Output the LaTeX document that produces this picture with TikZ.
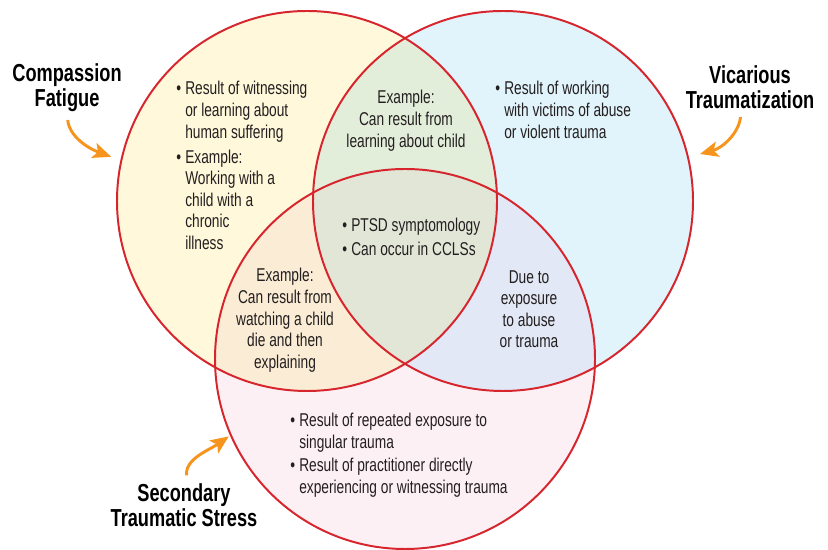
\documentclass[tikz,border=0pt]{standalone}
\usepackage{fontspec}
\setmainfont{Liberation Sans}[FakeStretch=0.74]
\usetikzlibrary{arrows.meta,positioning}

\definecolor{ringred}{HTML}{D7252E}
\definecolor{cfyellow}{HTML}{FFF8DA}
\definecolor{vtblue}{HTML}{E1F3FB}
\definecolor{stspink}{HTML}{FDF0F4}
\definecolor{cfvtgreen}{HTML}{E3EEDA}
\definecolor{cfstspeach}{HTML}{FBECD5}
\definecolor{vtstslilac}{HTML}{E2E8F5}
\definecolor{coregrey}{HTML}{E1E6D7}
\definecolor{pointerorange}{HTML}{F7941D}
\definecolor{bodyink}{HTML}{231F20}

\newcommand{\listdot}{\makebox[6.4pt][l]{\textbullet}}
\newcommand{\listgap}{\hspace*{6.4pt}}

\begin{document}
\begin{tikzpicture}[
    ring/.style={draw=ringred, line width=1.4pt},
    body/.style={inner sep=0pt, text=bodyink, font=\fontsize{13.2}{15.4}\selectfont},
    title/.style={inner sep=0pt, align=center, font=\fontsize{17.5}{17.8}\selectfont\bfseries},
    pointer/.style={-{Stealth[length=13pt,width=11pt,inset=3pt]}, draw=pointerorange, line width=2.1pt}
]
    \useasboundingbox (0,0) rectangle (20.7,13.75);

    \coordinate (cf) at (7.675,8.725);
    \coordinate (vt) at (12.575,8.725);
    \coordinate (sts) at (10.125,4.775);

    % circle fills
    \fill[cfyellow] (cf) circle (4.75);
    \fill[vtblue] (vt) circle (4.75);
    \fill[stspink] (sts) circle (4.75);
    % overlaps
    \begin{scope}
        \clip (cf) circle (4.75);
        \fill[cfvtgreen] (vt) circle (4.75);
        \fill[cfstspeach] (sts) circle (4.75);
    \end{scope}
    \begin{scope}
        \clip (vt) circle (4.75);
        \fill[vtstslilac] (sts) circle (4.75);
    \end{scope}
    \begin{scope}
        \clip (cf) circle (4.75);
        \clip (vt) circle (4.75);
        \fill[coregrey] (sts) circle (4.75);
    \end{scope}
    \draw[ring] (cf) circle (4.75);
    \draw[ring] (vt) circle (4.75);
    \draw[ring] (sts) circle (4.75);

    % titles
    \node[title, anchor=north] (cflab) at (1.675,12.175) {Compassion\\Fatigue};
    \node[title, anchor=north] (vtlab) at (18.75,12.125) {Vicarious\\Traumatization};
    \node[title, anchor=north] (stslab) at (4.6,1.675) {Secondary\\Traumatic Stress};

    \coordinate (cftip) at (2.78,9.83);
    \coordinate (vttip) at (17.5,9.9);
    \coordinate (ststip) at (5.72,2.84);

    \draw[pointer, shorten <=6pt] (cflab.south) to[out=-85, in=160] (cftip);
    \draw[pointer, shorten <=6pt] ([xshift=-0.22cm]vtlab.south) to[out=-95, in=15] (vttip);
    \draw[pointer, shorten <=5.5pt] ([xshift=0.08cm]stslab.north) to[out=95, in=215] (ststip);

    % region texts
    \node[body, anchor=north west, align=left] (cftext) at (4.4,11.725)
        {\listdot Result of witnessing\\ \listgap or learning about\\ \listgap human suffering\\[2.4pt]
         \listdot Example:\\ \listgap Working with a\\ \listgap child with a\\ \listgap chronic\\ \listgap illness};
    \node[body, anchor=north west, align=left] (vttext) at (12.375,11.725)
        {\listdot Result of working\\ \listgap with victims of abuse\\ \listgap or violent trauma};
    \node[body, anchor=north, align=center] (cfvt) at (10.15,11.5)
        {Example:\\Can result from\\learning about child};
    \node[body, anchor=north west, align=left] (core) at (8.55,8.3)
        {\listdot PTSD symptomology\\[1.6pt] \listdot Can occur in CCLSs};
    \node[body, anchor=north, align=center] (cfsts) at (7.125,7.05)
        {Example:\\Can result from\\watching a child\\die and then\\explaining};
    \node[body, anchor=north, align=center] (vtsts) at (13.225,7.0)
        {Due to\\exposure\\to abuse\\or trauma};
    \node[body, anchor=north west, align=left] (ststext) at (7.25,3.425)
        {\listdot Result of repeated exposure to\\ \listgap singular trauma\\[1.2pt]
         \listdot Result of practitioner directly\\ \listgap experiencing or witnessing trauma};
\end{tikzpicture}
\end{document}
